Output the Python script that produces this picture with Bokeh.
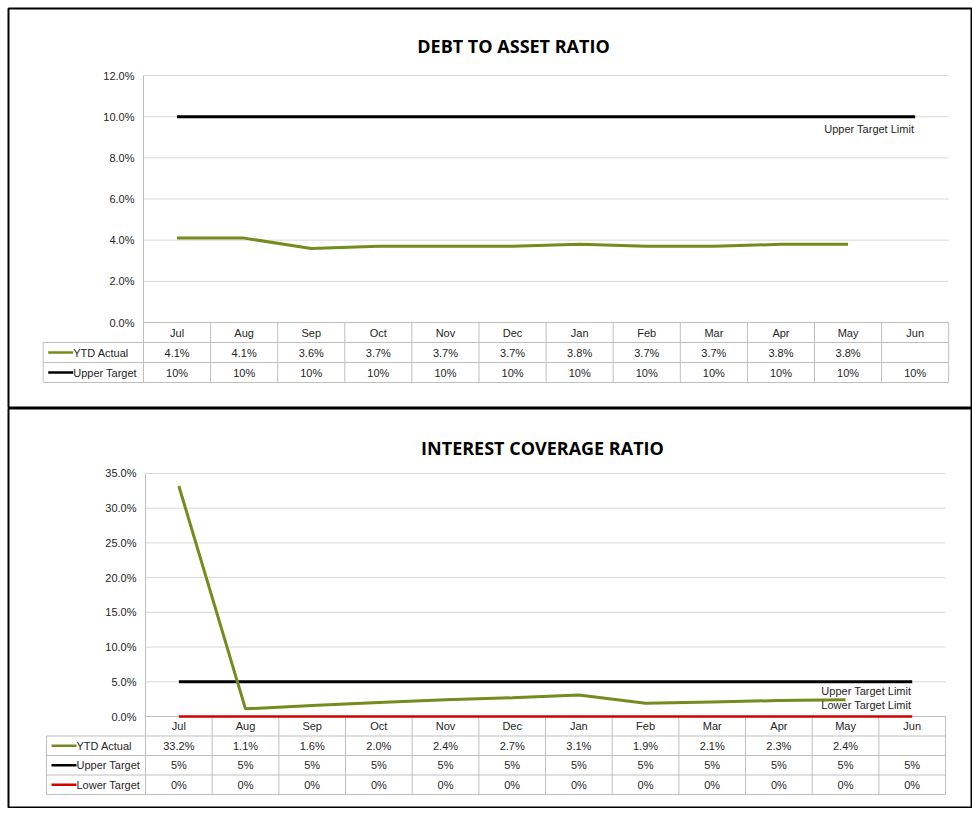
from bokeh.plotting import figure
from bokeh.layouts import column
from bokeh.models import Range1d
from bokeh.embed import file_html
from bokeh.resources import INLINE
from bokeh.core.properties import value

# ---------------- data ----------------
months = ["Jul", "Aug", "Sep", "Oct", "Nov", "Dec", "Jan", "Feb", "Mar", "Apr", "May", "Jun"]

debt_ytd = [4.1, 4.1, 3.6, 3.7, 3.7, 3.7, 3.8, 3.7, 3.7, 3.8, 3.8, None]
debt_upper = [10, 10, 10, 10, 10, 10, 10, 10, 10, 10, 10, 10]
debt_ticks = [0, 2, 4, 6, 8, 10, 12]

icr_ytd = [33.2, 1.1, 1.6, 2.0, 2.4, 2.7, 3.1, 1.9, 2.1, 2.3, 2.4, None]
icr_upper = [5, 5, 5, 5, 5, 5, 5, 5, 5, 5, 5, 5]
icr_lower = [0, 0, 0, 0, 0, 0, 0, 0, 0, 0, 0, 0]
icr_ticks = [0, 5, 10, 15, 20, 25, 30, 35]

OLIVE = "#748C1C"
BLACK = "#000000"
RED = "#D40000"
GRID = "#D9D9D9"
TABLE = "#BFBFBF"
TXT = "#262626"
FONT = value("Liberation Sans")
TITLE_FONT = value("Open Sans")

FRAME_LEFT = 8     # page x of the box's left border
FRAME_W = 964      # box width (runs to the window's right edge)


def make_chart(title, fig_top, height, pad_top, col_left, col_w, y0_px, ppu, row_h,
               legend_left, title_cx, title_cy, ticks, series, limit_labels,
               outline_color="black"):
    # page-pixel -> data helpers (layout only)
    def dx(page_x):
        return (page_x - col_left) / col_w

    def dy(page_y):
        return (y0_px - page_y) / ppu

    rh = row_h / ppu
    n = len(months)
    p = figure(width=FRAME_LEFT + FRAME_W, height=pad_top + height, output_backend="svg",
               toolbar_location=None, title=None,
               x_axis_location=None, y_axis_location=None,
               x_range=Range1d(dx(FRAME_LEFT), dx(FRAME_LEFT + FRAME_W)),
               y_range=Range1d(dy(fig_top + height), dy(fig_top)),
               min_border=0, min_border_left=FRAME_LEFT, min_border_right=0,
               min_border_top=pad_top, min_border_bottom=0)
    p.grid.visible = False
    p.outline_line_color = outline_color
    p.outline_line_width = 2
    p.background_fill_color = "white"
    p.border_fill_color = "white"

    # title
    p.text(x=[dx(title_cx)], y=[dy(title_cy)], text=[title],
           text_font=TITLE_FONT, text_font_style="bold", text_font_size="18px",
           text_align="center", text_baseline="middle", text_color="black")

    # horizontal gridlines
    gt = [t for t in ticks if t != 0]
    p.segment(x0=[0] * len(gt), x1=[n] * len(gt), y0=gt, y1=gt,
              line_color=GRID, line_width=1)
    # axis line
    p.segment(x0=[0], x1=[0], y0=[0], y1=[max(ticks)], line_color=TABLE, line_width=1)
    # y tick labels
    p.text(x=[dx(col_left - 9)] * len(ticks), y=ticks,
           text=[f"{t:.1f}%" for t in ticks], text_font=FONT, text_font_size="11px",
           text_align="right", text_baseline="middle", text_color=TXT)

    # data table
    nrows = len(series)
    ybot = -rh * (nrows + 1)
    p.segment(x0=[0], x1=[n], y0=[0], y1=[0], line_color=TABLE, line_width=1)
    hy = [-rh * (k + 1) for k in range(nrows + 1)]
    p.segment(x0=[dx(legend_left)] * len(hy), x1=[n] * len(hy), y0=hy, y1=hy,
              line_color=TABLE, line_width=1)
    vx = list(range(n + 1))
    p.segment(x0=vx, x1=vx, y0=[0] * len(vx), y1=[ybot] * len(vx),
              line_color=TABLE, line_width=1)
    p.segment(x0=[dx(legend_left)], x1=[dx(legend_left)], y0=[-rh], y1=[ybot],
              line_color=TABLE, line_width=1)
    centers = [i + 0.5 for i in range(n)]
    p.text(x=centers, y=[-rh / 2] * n, text=months, text_font=FONT,
           text_font_size="11px", text_align="center", text_baseline="middle",
           text_color=TXT)
    for k, (name, vals, color, fmt, lw) in enumerate(series):
        yc = -rh * (k + 1.5)
        txt = ["" if v is None else fmt.format(v) for v in vals]
        p.text(x=centers, y=[yc] * n, text=txt, text_font=FONT,
               text_font_size="11px", text_align="center", text_baseline="middle",
               text_color=TXT)
        p.segment(x0=[dx(legend_left + 5)], x1=[dx(legend_left + 30)], y0=[yc], y1=[yc],
                  line_color=color, line_width=2.5)
        p.text(x=[dx(legend_left + 30)], y=[yc], text=[name], text_font=FONT,
               text_font_size="11px", text_align="left", text_baseline="middle",
               text_color=TXT)

    # chart lines (targets first, actual on top)
    for name, vals, color, fmt, lw in reversed(series):
        xs = [c for c, v in zip(centers, vals) if v is not None]
        ys = [v for v in vals if v is not None]
        p.line(xs, ys, line_color=color, line_width=lw)

    # limit labels
    for label, yv, off in limit_labels:
        p.text(x=[dx(col_left + (n - 0.5) * col_w - 1)], y=[yv - off / ppu], text=[label],
               text_font=FONT, text_font_size="11px", text_align="right",
               text_baseline="middle", text_color=TXT)
    return p


p1 = make_chart(
    "DEBT TO ASSET RATIO", fig_top=8, height=400, pad_top=8, col_left=143, col_w=67.1,
    y0_px=322, ppu=20.58, row_h=20, legend_left=42.7,
    title_cx=513, title_cy=45, ticks=debt_ticks,
    series=[("YTD Actual", debt_ytd, OLIVE, "{:.1f}%", 3),
            ("Upper Target", debt_upper, BLACK, "{:.0f}%", 3)],
    limit_labels=[("Upper Target Limit", debt_upper[-1], 12)])

p2 = make_chart(
    "INTEREST COVERAGE RATIO", fig_top=408, height=400, pad_top=0, col_left=145, col_w=66.67,
    y0_px=716, ppu=6.943, row_h=19.5, legend_left=46,
    title_cx=542, title_cy=447, ticks=icr_ticks,
    series=[("YTD Actual", icr_ytd, OLIVE, "{:.1f}%", 3),
            ("Upper Target", icr_upper, BLACK, "{:.0f}%", 3),
            ("Lower Target", icr_lower, RED, "{:.0f}%", 2.5)],
    limit_labels=[("Upper Target Limit", icr_upper[-1], 9),
                  ("Lower Target Limit", icr_lower[-1], -12)])

layout = column(p1, p2, spacing=0)
open("out.html", "w").write(file_html(layout, INLINE))
